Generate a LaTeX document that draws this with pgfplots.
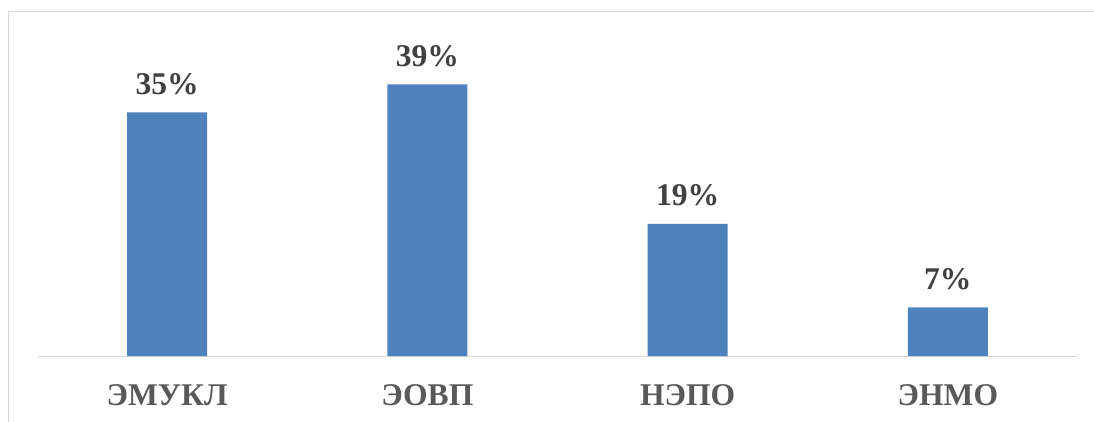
\documentclass[border=0pt]{standalone}
\usepackage{fontspec}
\setmainfont{Liberation Serif}
\usepackage{pgfplots}
\pgfplotsset{compat=1.18}
\definecolor{barblue}{HTML}{4F81BD}
\definecolor{gridgray}{HTML}{D9D9D9}
\definecolor{ticktext}{HTML}{595959}
\definecolor{labeltext}{HTML}{404040}
\begin{document}
\begin{tikzpicture}
\begin{axis}[
  name=ax,
  width=520.5pt, height=156.8pt, scale only axis,
  xmin=-0.5, xmax=3.5, ymin=0, ymax=45,
  axis x line*=bottom, axis y line=none,
  x axis line style={draw=gridgray, line width=0.6pt, -},
  xtick={0,1,2,3},
  xticklabels={ЭМУКЛ,ЭОВП,НЭПО,ЭНМО},
  major tick length=0pt,
  ytick=\empty,
  xticklabel style={font=\fontsize{15.8}{19}\selectfont\bfseries, text=ticktext, anchor=base, yshift=-24.5pt},
  ybar, bar width=40pt,
  point meta=explicit symbolic,
  nodes near coords={\pgfplotspointmeta\%},
  every node near coord/.append style={font=\fontsize{15.8}{19}\selectfont\bfseries, text=labeltext, anchor=base, inner sep=0pt, yshift=9pt},
  clip=false,
]
\addplot[fill=barblue, draw=none] coordinates {(0,35) [35] (1,39) [39] (2,19) [19] (3,7) [7]};
\end{axis}
\pgfresetboundingbox
\useasboundingbox ([xshift=-18.5pt,yshift=-32.5pt]ax.south west) rectangle ([xshift=8pt,yshift=21.3pt]ax.north east);
\draw[gridgray, line width=0.75pt] ([xshift=-14.25pt,yshift=-60pt]ax.south west) -- ([xshift=-14.25pt,yshift=15.5pt]ax.north west) -- ([xshift=30pt,yshift=15.5pt]ax.north east);
\end{tikzpicture}
\end{document}
